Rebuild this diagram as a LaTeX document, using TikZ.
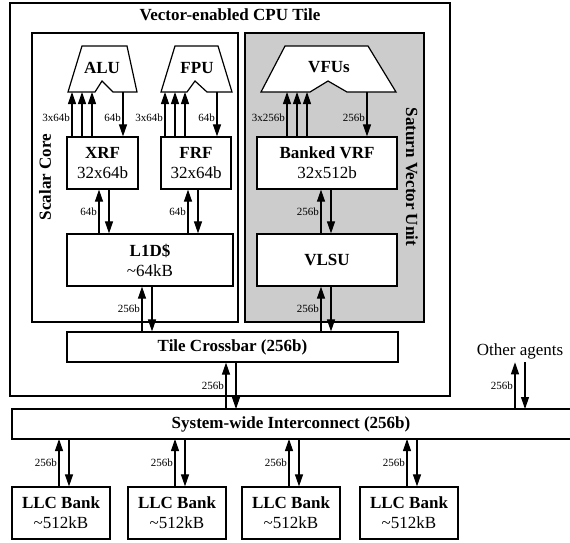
\documentclass[tikz,border=0pt]{standalone}
\usepackage{fontspec}
\setmainfont{Liberation Serif}
\usetikzlibrary{arrows.meta}

\begin{document}
\begin{tikzpicture}[x=1pt, y=-1pt,
    big/.style={font=\fontsize{17}{20}\selectfont},
    region/.style={draw, line width=1.2pt, inner sep=0pt},
    box/.style={big, draw, line width=1.2pt, fill=white, inner sep=0pt, align=center},
    unit/.style={draw, line width=1.2pt, fill=white, line join=miter},
    buslbl/.style={left, inner sep=1.5pt, font=\fontsize{11}{12}\selectfont},
    link/.style={line width=1.1pt, -{Triangle[width=8pt,length=12pt]}}]
    \clip (0,0) rectangle (570,542);

    % CPU tile and its two halves
    \node[region, minimum width=440pt, minimum height=393pt] (tile) at (230,199.5) {};
    \node[big, anchor=base] (tiletitle) at (230,20) {\textbf{Vector-enabled CPU Tile}};

    \node[region, minimum width=206pt, minimum height=289pt] (scalar) at (135,177.5) {};
    \node[big, rotate=90] (scalarlbl) at (45,177) {\textbf{Scalar Core}};

    \node[region, fill=gray!40, minimum width=179pt, minimum height=289pt] (saturn) at (334.5,177.5) {};
    \node[big, rotate=-90] (saturnlbl) at (412,177) {\textbf{Saturn Vector Unit}};

    % Functional units
    \draw[unit] (82,46) -- (127,46) -- (137,92) -- (113,92) -- (102,81) -- (95,92) -- (68,92) -- cycle;
    \node[big] (alu) at (102,68) {\textbf{ALU}};
    \coordinate (alubase) at (102,92);

    \draw[unit] (175,46) -- (218,46) -- (232,92) -- (207,92) -- (195,81) -- (187,92) -- (161,92) -- cycle;
    \node[big] (fpu) at (197,68) {\textbf{FPU}};
    \coordinate (fpubase) at (197,92);

    \draw[unit] (285,46) -- (368,46) -- (396,92) -- (347,92) -- (328,81) -- (310,92) -- (261,92) -- cycle;
    \node[big] (vfu) at (329,67) {\textbf{VFUs}};
    \coordinate (vfubase) at (329,92);

    % Register files
    \node[box, minimum width=71pt, minimum height=52pt] (xrf) at (102.5,163) {\textbf{XRF}\\32x64b};
    \node[box, minimum width=70pt, minimum height=52pt] (frf) at (196,163) {\textbf{FRF}\\32x64b};
    \node[box, minimum width=140pt, minimum height=52pt] (vrf) at (327,163) {\textbf{Banked VRF}\\32x512b};

    % Memory side
    \node[box, minimum width=166pt, minimum height=52pt] (l1d) at (150,260) {\textbf{L1D\$}\\\textasciitilde64kB};
    \node[box, minimum width=140pt, minimum height=52pt] (vlsu) at (327,260) {\textbf{VLSU}};
    \node[box, minimum width=331pt, minimum height=30pt] (xbar) at (232.5,347) {\textbf{Tile Crossbar (256b)}};

    \node[box, draw=none, outer sep=0pt, minimum width=558pt, minimum height=30pt] (sysint) at (291,424) {\textbf{System-wide Interconnect (256b)}};
    \draw[line width=1.2pt] (sysint.north east) -- (sysint.north west) -- (sysint.south west) -- (sysint.south east);

    \node[big] (others) at (520,351) {Other agents};

    % Operand buses into the units
    \draw[link] (xrf.north -| 72,0) -- (72,0 |- alubase) node[buslbl, pos=0.42] {3x64b};
    \foreach \x in {82,92}
        \draw[link] (xrf.north -| \x,0) -- (\x,0 |- alubase);
    \draw[link] (123,0 |- alubase) -- (xrf.north -| 123,0) node[buslbl, pos=0.58] {64b};

    \draw[link] (frf.north -| 165,0) -- (165,0 |- fpubase) node[buslbl, pos=0.42] {3x64b};
    \foreach \x in {175,185}
        \draw[link] (frf.north -| \x,0) -- (\x,0 |- fpubase);
    \draw[link] (217,0 |- fpubase) -- (frf.north -| 217,0) node[buslbl, pos=0.58] {64b};

    \draw[link] (vrf.north -| 287,0) -- (287,0 |- vfubase) node[buslbl, pos=0.42] {3x256b};
    \foreach \x in {297,307}
        \draw[link] (vrf.north -| \x,0) -- (\x,0 |- vfubase);
    \draw[link] (367,0 |- vfubase) -- (vrf.north -| 367,0) node[buslbl, pos=0.58] {256b};

    % Register files <-> memory
    \draw[link] (l1d.north -| 99,0) -- (xrf.south -| 99,0) node[buslbl, midway] {64b};
    \draw[link] (xrf.south -| 109,0) -- (l1d.north -| 109,0);
    \draw[link] (l1d.north -| 188,0) -- (frf.south -| 188,0) node[buslbl, midway] {64b};
    \draw[link] (frf.south -| 198,0) -- (l1d.north -| 198,0);
    \draw[link] (vlsu.north -| 321,0) -- (vrf.south -| 321,0) node[buslbl, midway] {256b};
    \draw[link] (vrf.south -| 331,0) -- (vlsu.north -| 331,0);

    % Into the crossbar
    \draw[link] (xbar.north -| 142,0) -- (l1d.south -| 142,0) node[buslbl, midway] {256b};
    \draw[link] (l1d.south -| 152,0) -- (xbar.north -| 152,0);
    \draw[link] (xbar.north -| 321,0) -- (vlsu.south -| 321,0) node[buslbl, midway] {256b};
    \draw[link] (vlsu.south -| 331,0) -- (xbar.north -| 331,0);

    % Out to the system
    \draw[link] (sysint.north -| 226,0) -- (xbar.south -| 226,0) node[buslbl, midway] {256b};
    \draw[link] (xbar.south -| 236,0) -- (sysint.north -| 236,0);
    \draw[link] (sysint.north -| 515,0) -- (others.south -| 515,0) node[buslbl, midway] {256b};
    \draw[link] (others.south -| 525,0) -- (sysint.north -| 525,0);

    % LLC banks
    \foreach \x [count=\i, evaluate=\x as \xu using \x-2, evaluate=\x as \xd using \x+8] in {61,177,291,409} {
        \node[box, minimum width=98pt, minimum height=52pt] (llc\i) at (\x,513) {\textbf{LLC Bank}\\\textasciitilde512kB};
        \draw[link] (llc\i.north -| \xu,0) -- (sysint.south -| \xu,0) node[buslbl, midway] {256b};
        \draw[link] (sysint.south -| \xd,0) -- (llc\i.north -| \xd,0);
    }
\end{tikzpicture}
\end{document}
